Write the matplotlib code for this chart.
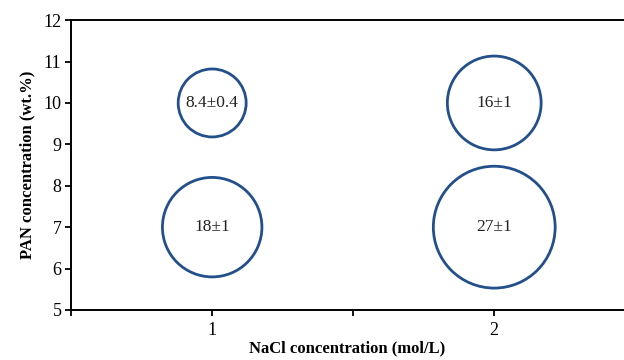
import matplotlib.pyplot as plt

plt.rcParams['font.family'] = ['Liberation Serif', 'DejaVu Serif']

nacl = [1, 2, 1, 2]
pan = [10, 10, 7, 7]
fiber_size = [8.4, 16, 18, 27]
labels = ["8.4\u00b10.4", "16\u00b11", "18\u00b11", "27\u00b11"]

edge_color = "#23508a"

fig = plt.figure(figsize=(6.24, 3.6), dpi=100)
ax = fig.add_axes([0.114, 0.139, 0.886, 0.805])

# bubble area proportional to value
size_per_unit = 285
ax.scatter(nacl, pan, s=[v * size_per_unit for v in fiber_size],
           facecolors="none", edgecolors=edge_color, linewidths=2, zorder=3)
for x, y, t in zip(nacl, pan, labels):
    ax.text(x, y, t, ha="center", va="center", fontsize=12.5, color="#222222")

ax.set_xlim(0.5, 2.46)
ax.set_ylim(5, 12)
ax.set_xticks([0.5, 1, 1.5, 2])
ax.set_xticklabels(["", "1", "", "2"])
ax.set_yticks(range(5, 13))
ax.tick_params(axis="both", labelsize=13, width=1.3, length=4, direction="out", colors="black")
ax.tick_params(axis="x", pad=5)
ax.tick_params(axis="y", pad=3)

for side in ["left", "top", "bottom"]:
    ax.spines[side].set_linewidth(1.4)
ax.spines["right"].set_visible(False)

ax.set_xlabel("NaCl concentration (mol/L)", fontsize=12, fontweight="bold")
ax.xaxis.set_label_coords(0.5, -0.105)
ax.set_ylabel("PAN concentration (wt.%)", fontsize=12, fontweight="bold", labelpad=6)

fig.savefig("out.png", dpi=100)
